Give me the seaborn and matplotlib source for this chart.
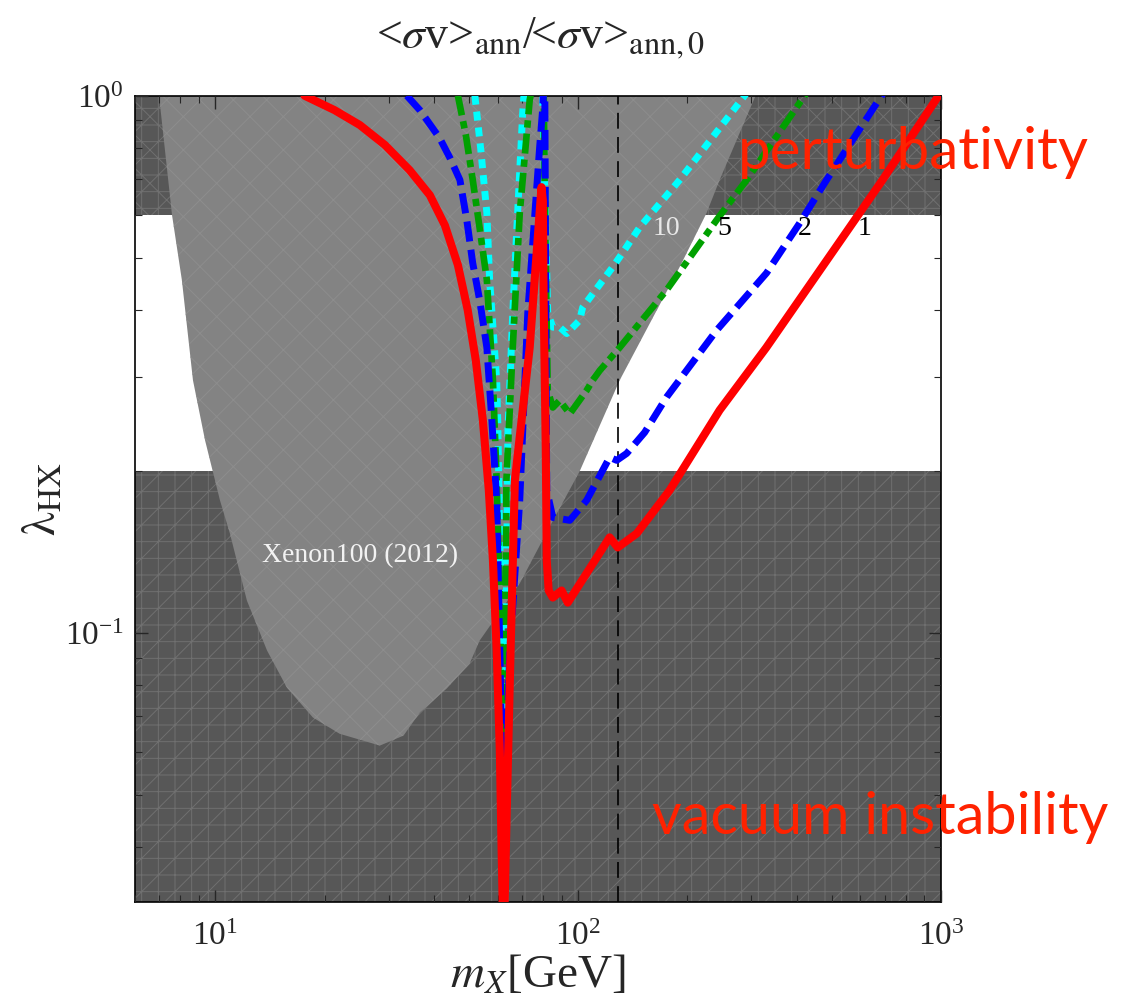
import numpy as np
import matplotlib.pyplot as plt
import seaborn as sns
from matplotlib.ticker import LogLocator, NullFormatter

sns.set_style('ticks')
plt.rcParams['font.family'] = ['Liberation Serif', 'DejaVu Serif']
plt.rcParams['mathtext.fontset'] = 'stix'
plt.rcParams['hatch.linewidth'] = 0.7

# ---- data ----
# <sigma v>_ann / <sigma v>_ann,0 = 1 (red, solid)
red_mx = [17.6, 21.3, 25.0, 29.3, 34.3, 39.0, 42.9, 46.6, 49.6, 52.2, 54.6, 56.7, 58.2, 59.6,
          60.8, 61.5, 62.0, 62.6, 63.5, 64.8, 66.9, 73.5, 79.2, 79.9, 80.3, 81.4, 81.9, 82.9,
          85.1, 90.0, 93.6, 107.6, 122.1, 128.5, 145.0, 178.7, 245.4, 330.0, 690.0, 985.0, 1010.0]
red_lam = [1.0, 0.94, 0.882, 0.81, 0.727, 0.653, 0.574, 0.484, 0.399, 0.322, 0.249, 0.1845,
           0.1366, 0.0929, 0.0605, 0.0394, 0.030, 0.030, 0.0461, 0.0816, 0.1924, 0.340, 0.676,
           0.639, 0.4166, 0.219, 0.1366, 0.1201, 0.1165, 0.1201, 0.114, 0.132, 0.1508, 0.1444,
           0.1533, 0.1845, 0.260, 0.340, 0.697, 1.0, 1.02]

# ratio = 2 (blue, dashed)
blue_mx = [33.7, 36.6, 41.5, 44.3, 47.2, 49.3, 51.2, 53.5, 56.0, 57.8, 59.6, 60.4, 61.2, 62.0,
           62.4, 62.7, 64.8, 69.0, 72.6, 78.3, 79.9, 80.3, 80.9, 81.4, 81.9, 85.1, 94.8, 105.5,
           122.1, 127.7, 136.0, 152.5, 175.3, 240.7, 330.6, 407.6, 483.7, 685.7, 720.0]
blue_lam = [1.0, 0.94, 0.834, 0.766, 0.697, 0.587, 0.488, 0.4166, 0.340, 0.249, 0.1767, 0.115,
            0.0749, 0.0318, 0.0318, 0.0488, 0.0929, 0.1767, 0.394, 0.803, 0.953, 1.03, 1.03,
            0.417, 0.1845, 0.1642, 0.1622, 0.1767, 0.2125, 0.2097, 0.216, 0.2364, 0.275, 0.366,
            0.468, 0.579, 0.697, 1.0, 1.05]

# ratio = 5 (green, dash-dot)
green_mx = [46.6, 49.0, 51.2, 53.5, 56.0, 58.2, 59.6, 60.8, 61.5, 62.0, 62.7, 63.4, 66.0, 69.0,
            73.5, 75.0, 80.3, 80.9, 82.4, 85.1, 88.9, 94.8, 105.5, 109.6, 114.6, 130.1, 175.3,
            240.7, 291.2, 420.7, 440.0]
green_lam = [1.0, 0.845, 0.697, 0.567, 0.454, 0.2955, 0.1924, 0.115, 0.0605, 0.0394, 0.0488,
             0.1924, 0.340, 0.605, 0.982, 1.05, 1.05, 0.639, 0.283, 0.263, 0.271, 0.256, 0.283,
             0.2955, 0.308, 0.340, 0.435, 0.587, 0.697, 1.0, 1.04]

# ratio = 10 (cyan, dotted)
cyan_mx = [51.9, 53.9, 56.0, 57.0, 59.6, 60.0, 61.2, 62.0, 62.7, 64.0, 66.0, 67.7, 70.3, 71.2,
           79.9, 79.9, 82.4, 85.1, 88.9, 93.0, 100.9, 102.9, 124.5, 130.1, 147.7, 190.4, 287.5,
           300.0]
cyan_lam = [1.0, 0.792, 0.605, 0.454, 0.2955, 0.249, 0.115, 0.0488, 0.0532, 0.238, 0.394,
            0.5625, 0.929, 1.05, 1.05, 0.953, 0.394, 0.371, 0.371, 0.361, 0.382, 0.404, 0.480,
            0.501, 0.569, 0.697, 1.0, 1.04]

# Xenon100 (2012) excluded region
xenon_mx = [6.99, 7.59, 8.08, 8.67, 9.36, 10.29, 10.96, 12.21, 13.87, 15.74, 18.56, 22.0, 28.4,
            33.0, 36.6, 43.4, 50.2, 53.5, 69.0, 83.5, 100.9, 130.1, 190.4, 225.9, 245.4, 308.3]
xenon_lam = [1.0, 0.6, 0.454, 0.2955, 0.2286, 0.1767, 0.1533, 0.115, 0.0929, 0.0792, 0.0697,
             0.065, 0.0618, 0.0645, 0.0712, 0.0789, 0.0878, 0.0969, 0.1238, 0.158, 0.2, 0.2955,
             0.480, 0.605, 0.697, 1.0]

pert_bound = 0.6      # perturbativity above
vac_bound = 0.2       # vacuum instability below
m_higgs_line = 129

ratio_labels = ['10', '5', '2', '1']
ratio_label_mx = [175.3, 253.2, 420.7, 615.6]
ratio_label_lam = 0.567

# ---- figure ----
fig = plt.figure(figsize=(11.4, 9.99), dpi=100)
ax = fig.add_axes([0.1184, 0.0971, 0.7070, 0.8071])
ax.set_xscale('log')
ax.set_yscale('log')
ax.set_xlim(6, 1000)
ax.set_ylim(10 ** -1.5, 1)

dark = '#575757'
mesh = '#707070'
ax.axhspan(pert_bound, 1, facecolor=dark, edgecolor=mesh, linewidth=0, hatch='x+', zorder=0.6)
ax.axhspan(10 ** -1.5, vac_bound, facecolor=dark, edgecolor=mesh, linewidth=0, hatch='/+', zorder=0.6)
ax.fill(xenon_mx, xenon_lam, facecolor='#838383', edgecolor='#8d8d8d', linewidth=0,
        hatch='x', zorder=0.8)

ax.axvline(m_higgs_line, color='black', lw=1.2, linestyle=(0, (9.5, 5)), zorder=2)

curves = [
    (cyan_mx, cyan_lam, '#00ffff', 5.0, (0, (1.3, 1.0))),
    (green_mx, green_lam, '#00a000', 4.8, (0, (3.0, 0.9, 1.1, 0.9))),
    (blue_mx, blue_lam, '#0000ff', 5.0, (0, (2.9, 1.2))),
    (red_mx, red_lam, '#ff0000', 5.8, '-'),
]
for mx, lam, col, lw, ls in curves:
    sns.lineplot(x=mx, y=lam, sort=False, estimator=None, ax=ax, color=col,
                 linewidth=lw, linestyle=ls, zorder=3)

for lab, mx in zip(ratio_labels, ratio_label_mx):
    ax.text(mx, ratio_label_lam, lab, ha='center', va='center', fontsize=20,
            color='#e8e8e8' if lab == '10' else 'black', zorder=4)

ax.text(25.0, 0.1395, 'Xenon100 (2012)', ha='center', va='center', fontsize=20,
        color='#f2f2f2', zorder=4)

ax.text(275, 0.732, 'perturbativity', ha='left', va='baseline', fontsize=42,
        family='Lato', color='#ff2200', clip_on=False, zorder=5)
ax.text(159.4, 0.0424, 'vacuum instability', ha='left', va='baseline', fontsize=41.5,
        family='Lato', color='#ff2200', clip_on=False, zorder=5)

ax.set_axisbelow(False)
ax.xaxis.set_minor_locator(LogLocator(base=10, subs=np.arange(2, 10)))
ax.yaxis.set_minor_locator(LogLocator(base=10, subs=np.arange(2, 10)))
ax.xaxis.set_minor_formatter(NullFormatter())
ax.yaxis.set_minor_formatter(NullFormatter())
ax.tick_params(which='both', direction='in', top=True, right=True, labelsize=24)
ax.tick_params(which='major', length=9, width=1.0)
ax.tick_params(which='minor', length=5, width=0.8)
ax.tick_params(axis='x', which='major', pad=14)
ax.tick_params(axis='y', which='major', pad=8)
for s in ax.spines.values():
    s.set_linewidth(1.2)
    s.set_color('black')

ax.set_xlabel(r'$m_X$[GeV]', fontsize=34, labelpad=2)
ax.set_ylabel(r'$\mathrm{\lambda}_{\mathrm{HX}}$', fontsize=34, labelpad=-1)

fig.text(0.474, 0.962, r'<$\sigma$v>$_{\mathrm{ann}}$/<$\sigma$v>$_{\mathrm{ann,0}}$',
         ha='center', va='center', fontsize=33)

fig.savefig('out.png', dpi=100)
